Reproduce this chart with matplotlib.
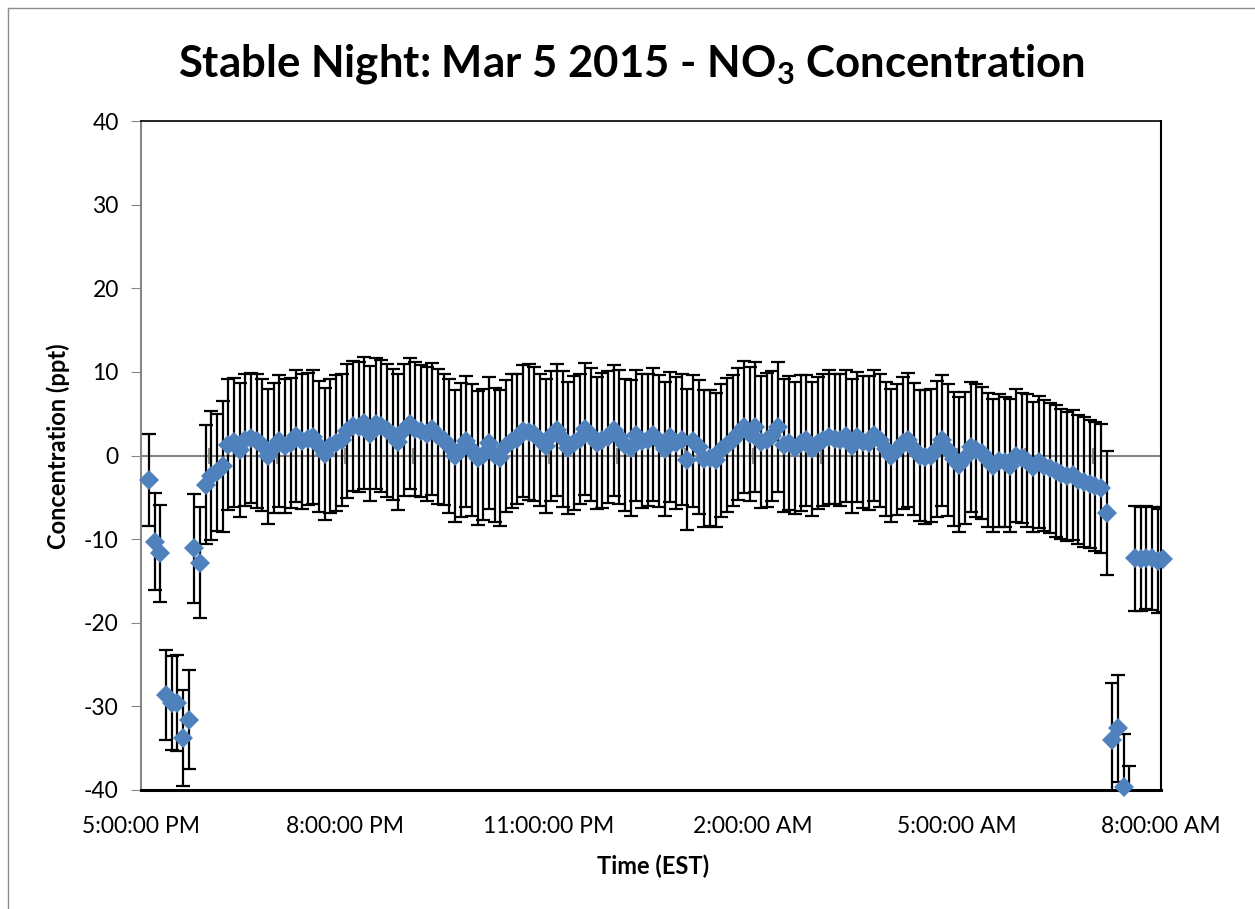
# Stable Night: Mar 5 2015 - concentracion de NO3
import numpy as np
import pandas as pd
import matplotlib
matplotlib.use("Agg")
import matplotlib.pyplot as plt
import matplotlib.dates as mdates
from matplotlib.lines import Line2D

plt.rcParams['font.family'] = ['Lato', 'DejaVu Sans']
plt.rcParams['mathtext.fontset'] = 'custom'
plt.rcParams['mathtext.rm'] = 'Lato'
plt.rcParams['mathtext.bf'] = 'Lato:bold'
plt.rcParams['axes.unicode_minus'] = False

### -----------------------------------------
# Datos: una media cada 5 min desde las 5:07 PM

tiempos = pd.date_range("2015-03-05 17:07", periods=180, freq="5min")

conc = [
    -2.9, -10.3, -11.7, -28.6, -29.6, -29.6, -33.8, -31.6, -11.1, -12.8,   # 0-9
    -3.5, -2.4, -2.0, -1.3, 1.3, 1.6, 0.7, 1.9, 2.1, 1.7,                  # 10-19
    1.3, -0.1, 0.9, 1.7, 1.1, 1.5, 2.3, 1.7, 2.0, 2.2,                     # 20-29
    1.1, 0.2, 1.1, 1.5, 1.9, 2.9, 3.5, 3.4, 3.9, 2.6,                      # 30-39
    3.8, 3.5, 3.0, 2.5, 1.6, 3.0, 3.8, 3.2, 2.9, 2.6,                      # 40-49
    3.2, 2.3, 1.9, 1.1, -0.1, 0.7, 1.7, 0.7, -0.3, 0.1,                    # 50-59
    1.5, 0.1, -0.3, 1.1, 1.7, 2.0, 2.9, 2.8, 2.6, 1.9,                     # 60-69
    1.1, 2.3, 3.0, 2.0, 0.9, 1.5, 2.0, 3.2, 2.5, 1.5,                      # 70-79
    1.8, 2.2, 3.0, 2.2, 1.3, 0.9, 2.4, 1.7, 1.9, 2.5,                      # 80-89
    1.7, 0.8, 2.2, 1.5, 1.9, -0.5, 1.7, 1.0, -0.4, -0.3,                   # 90-99
    -0.5, 0.6, 1.3, 1.8, 2.6, 3.4, 2.6, 3.4, 1.6, 1.9,                     # 100-109
    2.3, 3.4, 1.2, 1.5, 0.9, 1.5, 1.8, 0.8, 1.5, 1.9,                      # 110-119
    2.2, 2.0, 1.9, 2.3, 1.1, 2.2, 1.6, 1.5, 2.4, 1.8,                      # 120-129
    0.8, 0.0, 0.7, 1.5, 1.9, 0.8, 0.0, -0.2, 0.0, 0.8,                     # 130-139
    1.8, 0.7, -0.4, -1.1, -0.3, 1.0, 0.6, 0.3, -0.5, -1.2,                 # 140-149
    -0.6, -0.8, -1.2, 0.0, -0.3, -0.6, -1.4, -0.8, -1.2, -1.5,             # 150-159
    -1.9, -2.2, -2.5, -2.3, -2.9, -3.2, -3.4, -3.7, -3.9, -6.9,            # 160-169
    -34.0, -32.6, -39.6, -43.3, -12.3, -12.4, -12.2, -12.3, -12.6, -12.4,  # 170-179
]

err = [
    5.5, 5.8, 5.8, 5.4, 5.6, 5.7, 5.7, 5.9, 6.5, 6.6,
    7.1, 7.7, 7.0, 7.8, 7.8, 7.7, 8.0, 7.9, 7.8, 8.0,
    7.9, 8.1, 7.8, 7.9, 8.0, 7.8, 7.9, 8.1, 7.9, 8.0,
    7.8, 7.9, 8.0, 8.1, 7.9, 8.0, 7.8, 7.8, 7.9, 8.1,
    7.8, 7.9, 8.0, 7.8, 8.1, 7.9, 7.8, 8.0, 7.9, 8.0,
    7.9, 8.1, 7.8, 8.0, 7.9, 8.0, 7.8, 7.9, 8.0, 7.8,
    7.9, 8.0, 8.1, 7.9, 8.0, 7.8, 7.9, 8.1, 8.0, 7.9,
    8.0, 7.8, 7.9, 8.1, 7.9, 8.0, 7.8, 7.9, 8.0, 7.9,
    8.1, 7.9, 7.8, 8.0, 7.9, 8.1, 7.8, 8.0, 7.9, 8.0,
    7.9, 8.0, 7.8, 7.9, 7.8, 8.4, 7.9, 8.0, 8.2, 8.1,
    8.0, 7.9, 8.0, 7.8, 7.9, 7.9, 8.0, 7.8, 7.9, 8.0,
    7.8, 7.8, 7.9, 8.0, 7.9, 8.1, 7.8, 8.0, 7.9, 7.9,
    8.0, 7.8, 7.9, 7.9, 8.0, 7.8, 7.9, 8.0, 7.8, 7.9,
    8.0, 7.9, 7.8, 7.9, 8.0, 7.9, 7.8, 8.0, 7.9, 8.1,
    7.8, 7.9, 8.0, 8.1, 7.9, 7.8, 8.0, 7.9, 8.0, 7.9,
    7.9, 7.8, 7.9, 8.0, 7.8, 7.9, 7.8, 7.9, 7.8, 7.8,
    7.9, 7.8, 7.7, 7.8, 7.7, 7.8, 7.7, 7.7, 7.7, 7.4,
    6.8, 6.4, 6.3, 6.2, 6.3, 6.2, 6.2, 6.2, 6.2, 6.3,
]

x_inicio = pd.Timestamp("2015-03-05 17:00")
x_fin = pd.Timestamp("2015-03-06 08:00")
x_etiquetas = ["5:00:00 PM", "8:00:00 PM", "11:00:00 PM",
               "2:00:00 AM", "5:00:00 AM", "8:00:00 AM"]
y_ticks = [-40, -30, -20, -10, 0, 10, 20, 30, 40]

### -----------------------------------------

azul = "#4F81BD"
gris = "#868686"

x = mdates.date2num(tiempos.to_pydatetime())
y = np.array(conc, dtype=float)
e = np.array(err, dtype=float)

fig = plt.figure(figsize=(12.55, 9.09), dpi=100)
ax = fig.add_axes([141/1255, 1 - 790/909, 1020/1255, 669/909])

# Eixo horizontal en y = 0 con marcas cada hora
horas = mdates.date2num(pd.date_range(x_inicio, x_fin, freq="h").to_pydatetime())
ax.axhline(0, color=gris, lw=1.5, zorder=1)
ax.plot(horas, np.zeros(len(horas)), "|", color=gris, markersize=12,
        markeredgewidth=1.3, zorder=1, clip_on=False)

# Barras de error (recortadas ao eixo)
ax.errorbar(x, y, yerr=e, fmt="none", ecolor="black", elinewidth=1.6,
            capsize=4.8, capthick=1.6, zorder=2)

# Marcadores (so os que caen dentro do rango)
dentro = (y >= -40) & (y <= 40)
ax.plot(x[dentro], y[dentro], "D", color=azul, markersize=10,
        markeredgewidth=0, clip_on=False, zorder=3)

ax.set_xlim(mdates.date2num(x_inicio), mdates.date2num(x_fin))
ax.set_ylim(-40, 40)

ticks_x = mdates.date2num(pd.date_range(x_inicio, x_fin, freq="3h").to_pydatetime())
ax.set_xticks(ticks_x)
ax.set_xticklabels(x_etiquetas)
ax.set_yticks(y_ticks)
ax.tick_params(axis="x", length=0, pad=19, labelsize=16.5)
ax.tick_params(axis="y", direction="out", length=7, color=gris, pad=9, labelsize=16.5)

ax.spines["left"].set_color(gris)
ax.spines["left"].set_linewidth(1.5)
ax.spines["top"].set_linewidth(1.2)
ax.spines["right"].set_linewidth(1.5)
ax.spines["bottom"].set_linewidth(2.2)

fig.text(0.503, 0.930, r"Stable Night: Mar 5 2015 - NO$_\mathbf{3}$ Concentration",
         ha="center", va="center", fontsize=31.5, fontweight="bold")
fig.text(58/1255, 1 - 446/909, "Concentration (ppt)", rotation=90, ha="center",
         va="center", fontsize=17, fontweight="bold")
fig.text(653/1255, 1 - 866/909, "Time (EST)", ha="center", va="center",
         fontsize=17, fontweight="bold")

# Bordo exterior do grafico
fig.add_artist(Line2D([8/1255, 8/1255], [0, 1 - 8/909], color="#8c8c8c", lw=1))
fig.add_artist(Line2D([8/1255, 1], [1 - 8/909, 1 - 8/909], color="#8c8c8c", lw=1))

fig.savefig("out.png", dpi=100)
